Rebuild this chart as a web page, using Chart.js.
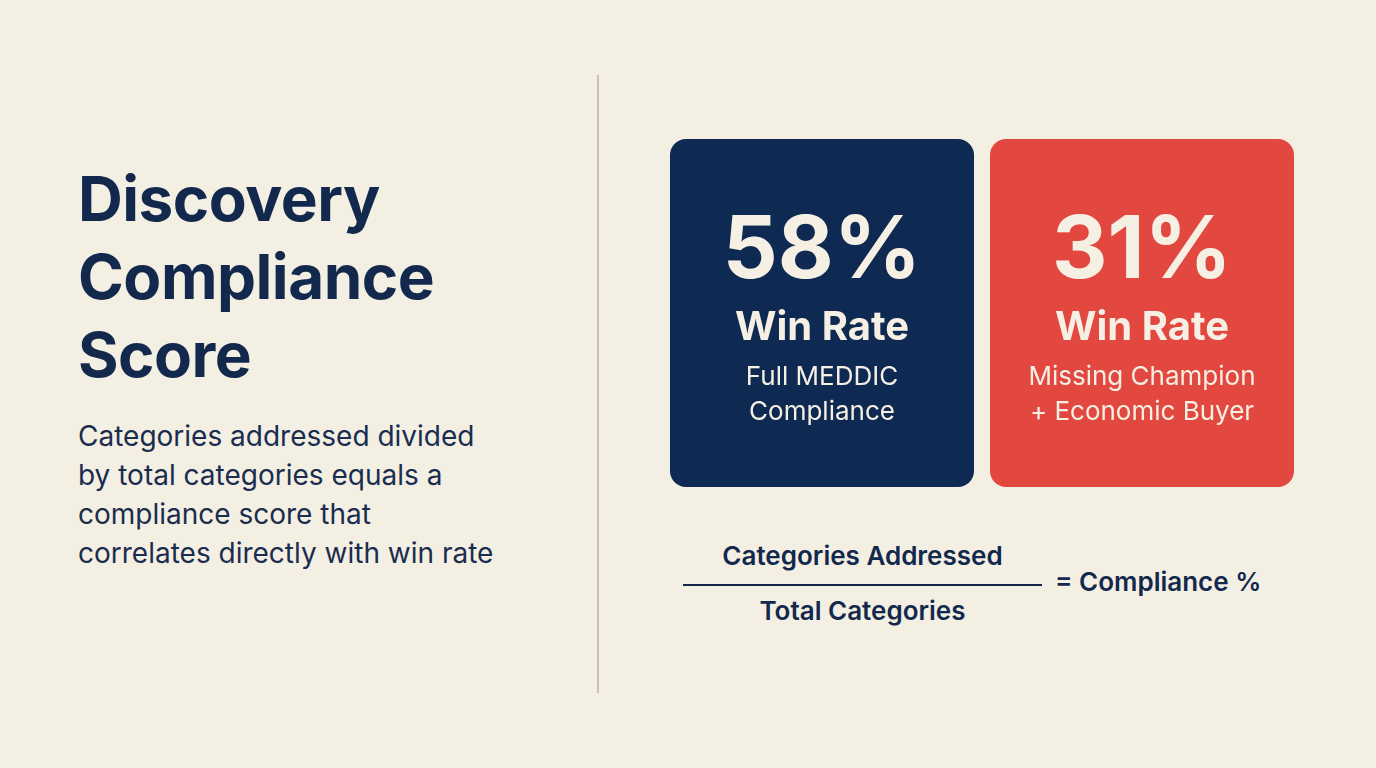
<!DOCTYPE html>
<html><head><meta charset="utf-8">
<script src="https://cdn.jsdelivr.net/npm/chart.js@4/dist/chart.umd.min.js"></script>
<style>
html,body{margin:0;padding:0;width:1376px;height:768px;background:#f4efe3;overflow:hidden;font-family:Inter,"Noto Sans",sans-serif;color:#12284d}
#title{position:absolute;left:78px;top:160px;font-size:62px;font-weight:700;line-height:78px;letter-spacing:-0.5px}
#sub{position:absolute;left:78px;top:417px;font-size:28px;line-height:39px;font-weight:400;color:#1a2d4f}
#div{position:absolute;left:597px;top:75px;width:2px;height:618px;background:#cbc2b1}
#cw{position:absolute;left:662px;top:139px;width:640px;height:348px}
.f{position:absolute;font-size:26px;font-weight:600;white-space:nowrap}
</style></head><body>
<div id="title">Discovery<br>Compliance<br>Score</div>
<div id="sub">Categories addressed divided<br>by total categories equals a<br>compliance score that<br>correlates directly with win rate</div>
<div id="div"></div>
<div id="cw"><canvas id="c"></canvas></div>
<div class="f" style="left:683px;width:359px;text-align:center;top:540px">Categories Addressed</div>
<div style="position:absolute;left:683px;top:584px;width:359px;height:2px;background:#12284d"></div>
<div class="f" style="left:683px;width:359px;text-align:center;top:595px">Total Categories</div>
<div class="f" style="left:1055px;top:566px">= Compliance %</div>
<script>
const categories=["Full MEDDIC Compliance","Missing Champion + Economic Buyer"];
const winRates=[58,31];
const subLines=[["Full MEDDIC","Compliance"],["Missing Champion","+ Economic Buyer"]];
const colors=["#0f2a52","#e2483f"];
const cardText={id:'cardText',afterDatasetsDraw(ch){
  const ctx=ch.ctx;const meta=ch.getDatasetMeta(0);
  meta.data.forEach((b,i)=>{
    const x=b.x;const top=b.y;
    ctx.save();ctx.fillStyle='#f6efe4';ctx.textAlign='center';ctx.textBaseline='middle';
    ctx.font='700 86px Inter, sans-serif';ctx.fillText(winRates[i]+'%',x,top+113);
    ctx.font='700 40px Inter, sans-serif';ctx.fillText('Win Rate',x,top+189);
    ctx.font='400 26px Inter, sans-serif';
    ctx.fillText(subLines[i][0],x,top+238);ctx.fillText(subLines[i][1],x,top+273);
    ctx.restore();
  });
}};
new Chart(document.getElementById('c'),{
  type:'bar',
  data:{labels:categories,datasets:[{data:winRates.map(()=>1),backgroundColor:colors,borderRadius:16,borderSkipped:false,barPercentage:0.95,categoryPercentage:1}]},
  options:{responsive:true,maintainAspectRatio:false,animation:false,layout:{padding:0},
    plugins:{legend:{display:false},tooltip:{enabled:false}},
    scales:{x:{display:false},y:{display:false,min:0,max:1}}},
  plugins:[cardText]
});
</script>
</body></html>
